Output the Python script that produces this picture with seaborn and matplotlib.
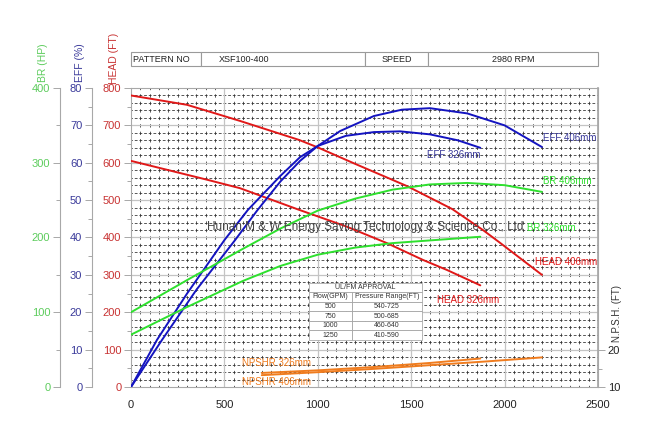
# pump performance curve - XSF100-400
import matplotlib
matplotlib.use('Agg')
import matplotlib.pyplot as plt
import seaborn as sns

sns.set_theme(style='ticks')
plt.rcParams['font.family'] = ['Liberation Sans', 'DejaVu Sans']
plt.rcParams['lines.scale_dashes'] = False

# ---- data ----
head_406_q = [0, 300, 583, 900, 1000, 1200, 1480, 1720, 1884, 1975, 2200]
head_406_h = [780, 755, 712, 661, 641, 597, 537, 476, 420, 386, 300]
head_326_q = [0, 412, 583, 900, 1150, 1370, 1563, 1692, 1870]
head_326_h = [605, 554, 532, 474, 430, 385, 340, 313, 272]

eff_406_q = [0, 166, 350, 557, 675, 800, 905, 1000, 1120, 1300, 1450, 1600, 1800, 2000, 2200]
eff_406_e = [0, 12.6, 26, 39.3, 47.2, 55, 60.5, 64.5, 68.5, 72.5, 74.2, 74.6, 73.2, 70, 64.2]
eff_326_q = [0, 139, 300, 500, 626, 800, 905, 1000, 1150, 1300, 1440, 1600, 1750, 1870]
eff_326_e = [0, 12.6, 25, 39.3, 47.4, 56.5, 61.5, 64.5, 67.2, 68.2, 68.4, 67.6, 66, 64]

br_406_q = [0, 300, 600, 800, 1000, 1200, 1400, 1600, 1800, 2000, 2200]
br_406_p = [100, 143, 185, 212, 236, 252, 264, 271, 273, 270, 261]
br_326_q = [0, 300, 600, 800, 1000, 1200, 1400, 1650, 1870]
br_326_p = [70, 107, 142, 162, 177, 186.5, 192.5, 197, 201]

npsh_406_q = [700, 1000, 1300, 1600, 1900, 2200]
npsh_406_n = [13.2, 14.0, 14.9, 15.9, 16.9, 18.0]
npsh_326_q = [700, 1000, 1300, 1600, 1870]
npsh_326_n = [13.8, 14.5, 15.4, 16.5, 17.7]

header_cells = ['PATTERN NO', 'XSF100-400', 'SPEED', '2980 RPM']
ulfm_title = 'UL/FM APPROVAL'
ulfm_cols = ['Flow(GPM)', 'Pressure Range(FT)']
ulfm_flow = ['500', '750', '1000', '1250']
ulfm_range = ['540-725', '500-685', '460-640', '410-590']

RED = '#e01818'
BLUE = '#1414c0'
GREEN = '#2ee02e'
ORANGE = '#f07c1e'
RED_T = '#c83232'
BLUE_T = '#3a3a9a'
GREEN_T = '#5ccc5c'
SPINE = '#a8a8a8'

W, H = 649, 441
fig = plt.figure(figsize=(W / 100, H / 100), dpi=100)
x0, x1, y0, y1 = 131, 598, 88, 387
ax = fig.add_axes([x0 / W, 1 - y1 / H, (x1 - x0) / W, (y1 - y0) / H])
ax.set_xlim(0, 2500)
ax.set_ylim(0, 800)

# grid: solid gray majors, dashed black minors (cross pattern)
px_w, px_h = x1 - x0, y1 - y0
pt = 0.72  # points per pixel at 100 dpi
per_v = px_h * 20 / 800 * pt      # vertical line dash period = 20 ft spacing
per_h = px_w * 50 / 2500 * pt / 2  # horizontal line dash period
minor_x = [q for q in range(50, 2500, 50) if q % 500]
minor_y = [h for h in range(20, 800, 20) if h % 100]
ax.vlines(minor_x, 0, 800, colors='#2a2a2a', linewidth=0.55,
          linestyles=[(1.2, (2.4, per_v - 2.4))], zorder=1)
ax.hlines(minor_y, 0, 2500, colors='#2a2a2a', linewidth=0.55,
          linestyles=[(1.0, (2.0, per_h - 2.0))], zorder=1)
ax.vlines(range(500, 2500, 500), 0, 800, colors='#c4c4c4', linewidth=0.9, zorder=1)
ax.hlines(range(100, 800, 100), 0, 2500, colors='#c4c4c4', linewidth=0.9, zorder=1)

for s in ax.spines.values():
    s.set_color(SPINE)
    s.set_linewidth(0.8)

ax.set_xticks(range(0, 2501, 500))
ax.tick_params(axis='x', length=0, pad=9, labelsize=8, labelcolor='#222222')
ax.set_yticks(range(0, 801, 100))
ax.set_yticks(range(50, 800, 100), minor=True)
ax.tick_params(axis='y', which='major', length=5, width=0.7, color=SPINE,
               labelsize=8, labelcolor=RED_T, pad=2)
ax.tick_params(axis='y', which='minor', length=3, width=0.7, color=SPINE)


def side_axis(offset, lim, major, minor, tcolor):
    a = ax.twinx()
    a.set_ylim(*lim)
    for k in ('top', 'bottom', 'right'):
        a.spines[k].set_visible(False)
    a.spines['left'].set_visible(True)
    a.spines['left'].set_position(('axes', offset))
    a.spines['left'].set_color(SPINE)
    a.spines['left'].set_linewidth(0.8)
    a.yaxis.set_ticks_position('left')
    a.yaxis.set_label_position('left')
    a.set_yticks(major)
    a.set_yticks(minor, minor=True)
    a.tick_params(axis='y', which='major', length=5, width=0.7, color=SPINE,
                  labelsize=8, labelcolor=tcolor, pad=2)
    a.tick_params(axis='y', which='minor', length=3, width=0.7, color=SPINE)
    return a


ax_eff = side_axis((92 - x0) / px_w, (0, 80), range(0, 81, 10), range(5, 80, 10), BLUE_T)
ax_br = side_axis((60 - x0) / px_w, (0, 400), range(0, 401, 100), range(50, 400, 100), GREEN_T)

ax_np = ax.twinx()
ax_np.set_ylim(10, 10 + 10 * px_h / 37.0)
for k in ('top', 'bottom', 'left'):
    ax_np.spines[k].set_visible(False)
ax_np.spines['right'].set_color(SPINE)
ax_np.set_yticks([10, 20])
ax_np.set_yticks([15], minor=True)
ax_np.tick_params(axis='y', which='major', length=5, width=0.7, color=SPINE,
                  labelsize=8, labelcolor='#222222', pad=2)
ax_np.tick_params(axis='y', which='minor', length=3, width=0.7, color=SPINE)

lw = 1.4
sns.lineplot(x=head_406_q, y=head_406_h, ax=ax, color=RED, linewidth=lw, estimator=None, zorder=3)
sns.lineplot(x=head_326_q, y=head_326_h, ax=ax, color=RED, linewidth=lw, estimator=None, zorder=3)
sns.lineplot(x=eff_406_q, y=eff_406_e, ax=ax_eff, color=BLUE, linewidth=lw, estimator=None)
sns.lineplot(x=eff_326_q, y=eff_326_e, ax=ax_eff, color=BLUE, linewidth=lw, estimator=None)
sns.lineplot(x=br_406_q, y=br_406_p, ax=ax_br, color=GREEN, linewidth=lw, estimator=None)
sns.lineplot(x=br_326_q, y=br_326_p, ax=ax_br, color=GREEN, linewidth=lw, estimator=None)
sns.lineplot(x=npsh_406_q, y=npsh_406_n, ax=ax_np, color=ORANGE, linewidth=lw, estimator=None)
sns.lineplot(x=npsh_326_q, y=npsh_326_n, ax=ax_np, color=ORANGE, linewidth=lw, estimator=None)
for a in (ax_eff, ax_br, ax_np):
    a.set_xlim(0, 2500)
    a.set_xlabel('')
    a.set_ylabel('')
ax.set_xlabel('')
ax.set_ylabel('')

# curve labels (in HEAD coordinates, on top axis)
lbl = dict(fontsize=7, va='center', ha='left', transform=ax.transData)
ax_np.text(2205, 666, 'EFF 406mm', color=BLUE_T, **lbl)
ax_np.text(1585, 621, 'EFF 326mm', color=BLUE_T, **lbl)
ax_np.text(2205, 551, 'BR 406mm', color=GREEN, **lbl)
ax_np.text(2120, 425, 'BR 326mm', color=GREEN, **lbl)
ax_np.text(2163, 334, 'HEAD 406mm', color=RED, **lbl)
ax_np.text(1638, 233, 'HEAD 326mm', color=RED, **lbl)
ax_np.text(594, 64, 'NPSHR 326mm', color=ORANGE, **lbl)
ax_np.text(594, 13, 'NPSHR 406mm', color=ORANGE, **lbl)

ax_np.text(1253, 428, 'Hunan M & W Energy Saving Technology & Science Co., Ltd',
           transform=ax.transData, ha='center', va='center', fontsize=8.5, color='#444444')

# UL/FM approval table
tb = dict(cellLoc='center', edges='closed')
t1 = ax_np.table(cellText=[[ulfm_title]], bbox=[(309 - x0) / px_w, (y1 - 292) / px_h,
                                              113 / px_w, 9 / px_h], **tb)
rows = [ulfm_cols] + [[f, r] for f, r in zip(ulfm_flow, ulfm_range)]
t2 = ax_np.table(cellText=rows, colWidths=[43, 70],
                 bbox=[(309 - x0) / px_w, (y1 - 340) / px_h, 113 / px_w, 48 / px_h], **tb)
for t in (t1, t2):
    t.auto_set_font_size(False)
    t.set_fontsize(5)
    for c in t.get_celld().values():
        c.set_edgecolor('#9a9a9a')
        c.set_linewidth(0.5)
        c.set_facecolor('white')
        c.get_text().set_color('#333333')

# header table
hax = fig.add_axes([x0 / W, 1 - 66 / H, px_w / W, 14 / H])
hax.axis('off')
ht = hax.table(cellText=[header_cells], colWidths=[70, 164, 63, 170], bbox=[0, 0, 1, 1],
               cellLoc='center')
ht.auto_set_font_size(False)
ht.set_fontsize(6.5)
for (r, c), cell in ht.get_celld().items():
    cell.set_edgecolor('#9a9a9a')
    cell.set_linewidth(0.8)
    cell.get_text().set_color('#222222')
    if c in (0, 1):
        cell.get_text().set_ha('left')
        cell.PAD = 0.03 if c == 0 else 0.11

# axis titles
fig.text(43 / W, 1 - 63 / H, 'BR (HP)', rotation=90, ha='center', va='center',
         fontsize=7.5, color=GREEN_T)
fig.text(80 / W, 1 - 63 / H, 'EFF (%)', rotation=90, ha='center', va='center',
         fontsize=7.5, color=BLUE_T)
fig.text(114 / W, 1 - 58 / H, 'HEAD (FT)', rotation=90, ha='center', va='center',
         fontsize=7.5, color=RED_T)
fig.text(617 / W, 1 - 314 / H, 'N.P.S.H. (FT)', rotation=90, ha='center', va='center',
         fontsize=7, color='#333333')

fig.savefig('out.png', dpi=100, facecolor='white')
